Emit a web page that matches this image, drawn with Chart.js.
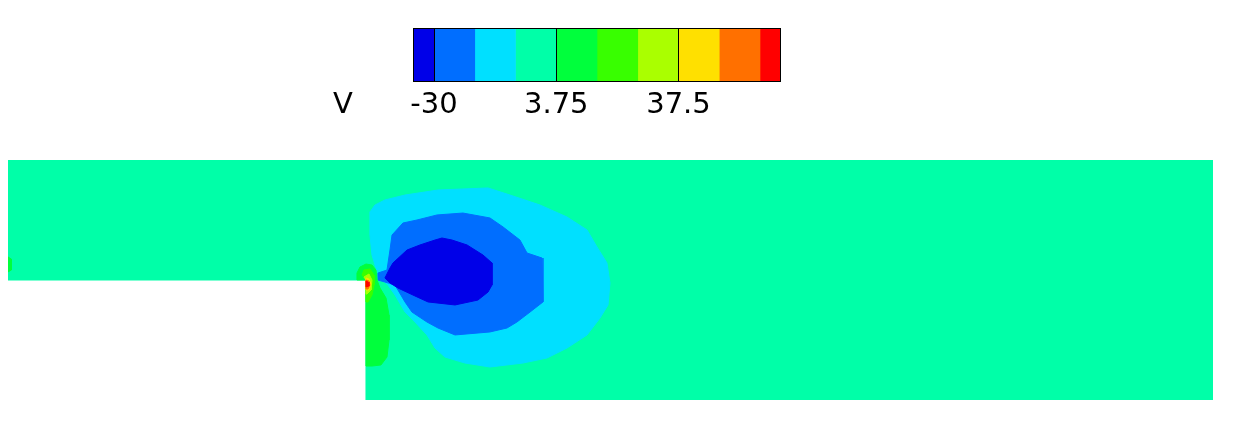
<!DOCTYPE html>
<html><head><meta charset="utf-8">
<script src="https://cdn.jsdelivr.net/npm/chart.js@4.4.1/dist/chart.umd.min.js"></script>
<style>
html,body{margin:0;padding:0;background:#fff;}
#wrap{position:relative;width:1234px;height:422px;overflow:hidden;background:#fff;}
#main{position:absolute;left:0;top:0;}
#bar{position:absolute;left:300px;top:0;}
#vlab{position:absolute;left:333px;top:89px;font-family:"DejaVu Sans",sans-serif;font-size:29px;line-height:29px;color:#000;}
</style></head><body>
<div id="wrap">
<canvas id="main" width="1234" height="422"></canvas>
<canvas id="bar" width="600" height="140"></canvas>
<div id="vlab">V</div>
</div>
<script>
// ---- colour legend data ----
const varName = 'V';
const levels = [-30, -18.75, -7.5, 3.75, 15, 26.25, 37.5, 48.75, 60];
const barRange = [-35.8, 65.8];
const tickValues = [-30, 3.75, 37.5];
const tickLabels = ['-30', '3.75', '37.5'];
const bandColors = ['#0000E8', '#006EFF', '#00E0FF', '#00FFA8', '#00FF3C',
                    '#38FF00', '#AAFF00', '#FFE000', '#FF7000', '#FF0000'];

// ---- domain (x/H, y/H), step height H = 1 ----
const domainX = [-2.983, 7.058];
const domainY = [0, 2];
const domainShape = [[-2.983,1],[-2.983,2],[7.058,2],[7.058,0],[0,0],[0,1]];

// ---- contour band regions ----
const zoneCyan = [[0.033,1.567],[0.075,1.625],[0.158,1.667],[0.325,1.708],[0.600,1.750],[1.017,1.767],
  [1.200,1.708],[1.450,1.625],[1.675,1.525],[1.842,1.417],[1.925,1.275],[2.008,1.142],[2.033,0.975],
  [2.017,0.792],[1.950,0.683],[1.842,0.542],[1.675,0.433],[1.508,0.350],[1.308,0.308],[1.033,0.275],
  [0.825,0.308],[0.658,0.358],[0.575,0.433],[0.508,0.542],[0.408,0.650],[0.325,0.733],[0.242,0.875],
  [0.183,0.958],[0.117,1.017],[0.083,1.100],[0.050,1.208],[0.033,1.375]];
const zoneBlue = [[0.308,1.475],[0.425,1.500],[0.592,1.542],[0.808,1.558],[1.033,1.517],[1.142,1.442],
  [1.283,1.333],[1.342,1.225],[1.467,1.183],[1.475,0.958],[1.475,0.817],[1.367,0.733],[1.258,0.650],
  [1.175,0.600],[1.033,0.567],[0.742,0.542],[0.600,0.600],[0.508,0.650],[0.383,0.733],[0.325,0.817],
  [0.242,0.958],[0.158,0.983],[0.100,1.000],[0.100,1.058],[0.175,1.083],[0.200,1.250],[0.217,1.375]];
const zoneDarkBlue = [[0.200,1.100],[0.225,1.142],[0.342,1.250],[0.450,1.292],[0.575,1.333],[0.633,1.350],
  [0.717,1.333],[0.842,1.292],[0.975,1.208],[1.050,1.142],[1.050,0.958],[1.017,0.900],[0.933,0.833],
  [0.742,0.792],[0.517,0.817],[0.408,0.867],[0.267,0.933],[0.200,0.975],[0.158,1.017]];
const zoneGreen = [[-0.075,1.000],[-0.075,1.058],[-0.050,1.108],[0.000,1.133],[0.050,1.125],[0.083,1.083],
  [0.092,1.000],[0.117,0.933],[0.167,0.850],[0.192,0.708],[0.192,0.500],[0.175,0.358],[0.125,0.292],
  [0.050,0.283],[0.000,0.283],[0.000,1.000]];
const zoneInletGreen = [[-2.983,1.192],[-2.955,1.175],[-2.955,1.083],[-2.983,1.067]];
const zoneLightGreen = [[-0.033,1.042],[-0.017,1.083],[0.033,1.092],[0.067,1.042],[0.067,0.958],
  [0.050,0.875],[0.017,0.817],[0.000,0.817],[0.000,1.000]];
const zoneYellowGreen = [[-0.017,1.025],[0.025,1.050],[0.050,1.000],[0.042,0.917],[0.008,0.883],
  [0.000,0.883],[0.000,1.000]];
const zoneYellow = [[0.000,1.017],[0.025,1.008],[0.042,0.967],[0.025,0.917],[0.000,0.917]];
const zoneOrange = [[0.000,1.000],[0.025,0.992],[0.033,0.958],[0.017,0.925],[0.000,0.925]];
const zoneRed = [[0.000,0.992],[0.017,0.983],[0.025,0.950],[0.000,0.942]];

// drawing order: first = bottom
const zones = [
  {band: 3, pts: domainShape},
  {band: 2, pts: zoneCyan},
  {band: 1, pts: zoneBlue},
  {band: 0, pts: zoneDarkBlue},
  {band: 4, pts: zoneGreen},
  {band: 4, pts: zoneInletGreen},
  {band: 5, pts: zoneLightGreen},
  {band: 6, pts: zoneYellowGreen},
  {band: 7, pts: zoneYellow},
  {band: 8, pts: zoneOrange},
  {band: 9, pts: zoneRed}
];

new Chart(document.getElementById('main'), {
  type: 'scatter',
  data: {
    datasets: zones.map((z, i) => ({
      data: z.pts.concat([z.pts[0]]).map(([x, y]) => ({x, y})),
      showLine: true,
      fill: 'shape',
      backgroundColor: bandColors[z.band],
      borderColor: bandColors[z.band],
      borderWidth: 1,
      pointRadius: 0,
      tension: 0,
      order: zones.length - i
    }))
  },
  options: {
    responsive: false, animation: false, events: [],
    plugins: {legend: {display: false}, tooltip: {enabled: false}},
    layout: {padding: {left: 8, right: 21, top: 160, bottom: 22}},
    scales: {
      x: {type: 'linear', min: domainX[0], max: domainX[1], display: false},
      y: {type: 'linear', min: domainY[0], max: domainY[1], display: false}
    }
  }
});

const bandEdges = [barRange[0], ...levels, barRange[1]];
const outlinePlugin = {
  id: 'outline',
  afterDatasetsDraw(chart) {
    const {ctx, chartArea: a, scales: {x}} = chart;
    ctx.save();
    ctx.strokeStyle = '#000';
    ctx.lineWidth = 1;
    ctx.strokeRect(Math.round(a.left) + 0.5, Math.round(a.top) + 0.5,
                   Math.round(a.right - a.left) - 1, Math.round(a.bottom - a.top) - 1);
    ctx.beginPath();
    tickValues.forEach(v => {
      const px = Math.round(x.getPixelForValue(v)) + 0.5;
      ctx.moveTo(px, a.top); ctx.lineTo(px, a.bottom);
    });
    ctx.stroke();
    ctx.restore();
  }
};

new Chart(document.getElementById('bar'), {
  type: 'bar',
  data: {
    labels: [varName],
    datasets: bandColors.map((c, i) => ({
      data: [[bandEdges[i], bandEdges[i + 1]]],
      backgroundColor: c, borderWidth: 0,
      barPercentage: 1, categoryPercentage: 1, grouped: false
    }))
  },
  options: {
    indexAxis: 'y', responsive: false, animation: false, events: [],
    plugins: {legend: {display: false}, tooltip: {enabled: false}},
    layout: {padding: {left: 113, right: 119, top: 28, bottom: 18}},
    scales: {
      y: {display: false},
      x: {
        type: 'linear', min: barRange[0], max: barRange[1],
        grid: {display: false, drawTicks: false}, border: {display: false},
        afterBuildTicks: s => { s.ticks = tickValues.map(v => ({value: v})); },
        afterFit: s => { s.height = 40; },
        ticks: {
          autoSkip: false, maxRotation: 0, minRotation: 0, padding: 6, color: '#000',
          font: {family: '"DejaVu Sans", sans-serif', size: 29},
          callback: v => { const k = tickValues.indexOf(v); return k >= 0 ? tickLabels[k] : ''; }
        }
      }
    }
  },
  plugins: [outlinePlugin]
});
</script>
</body></html>
